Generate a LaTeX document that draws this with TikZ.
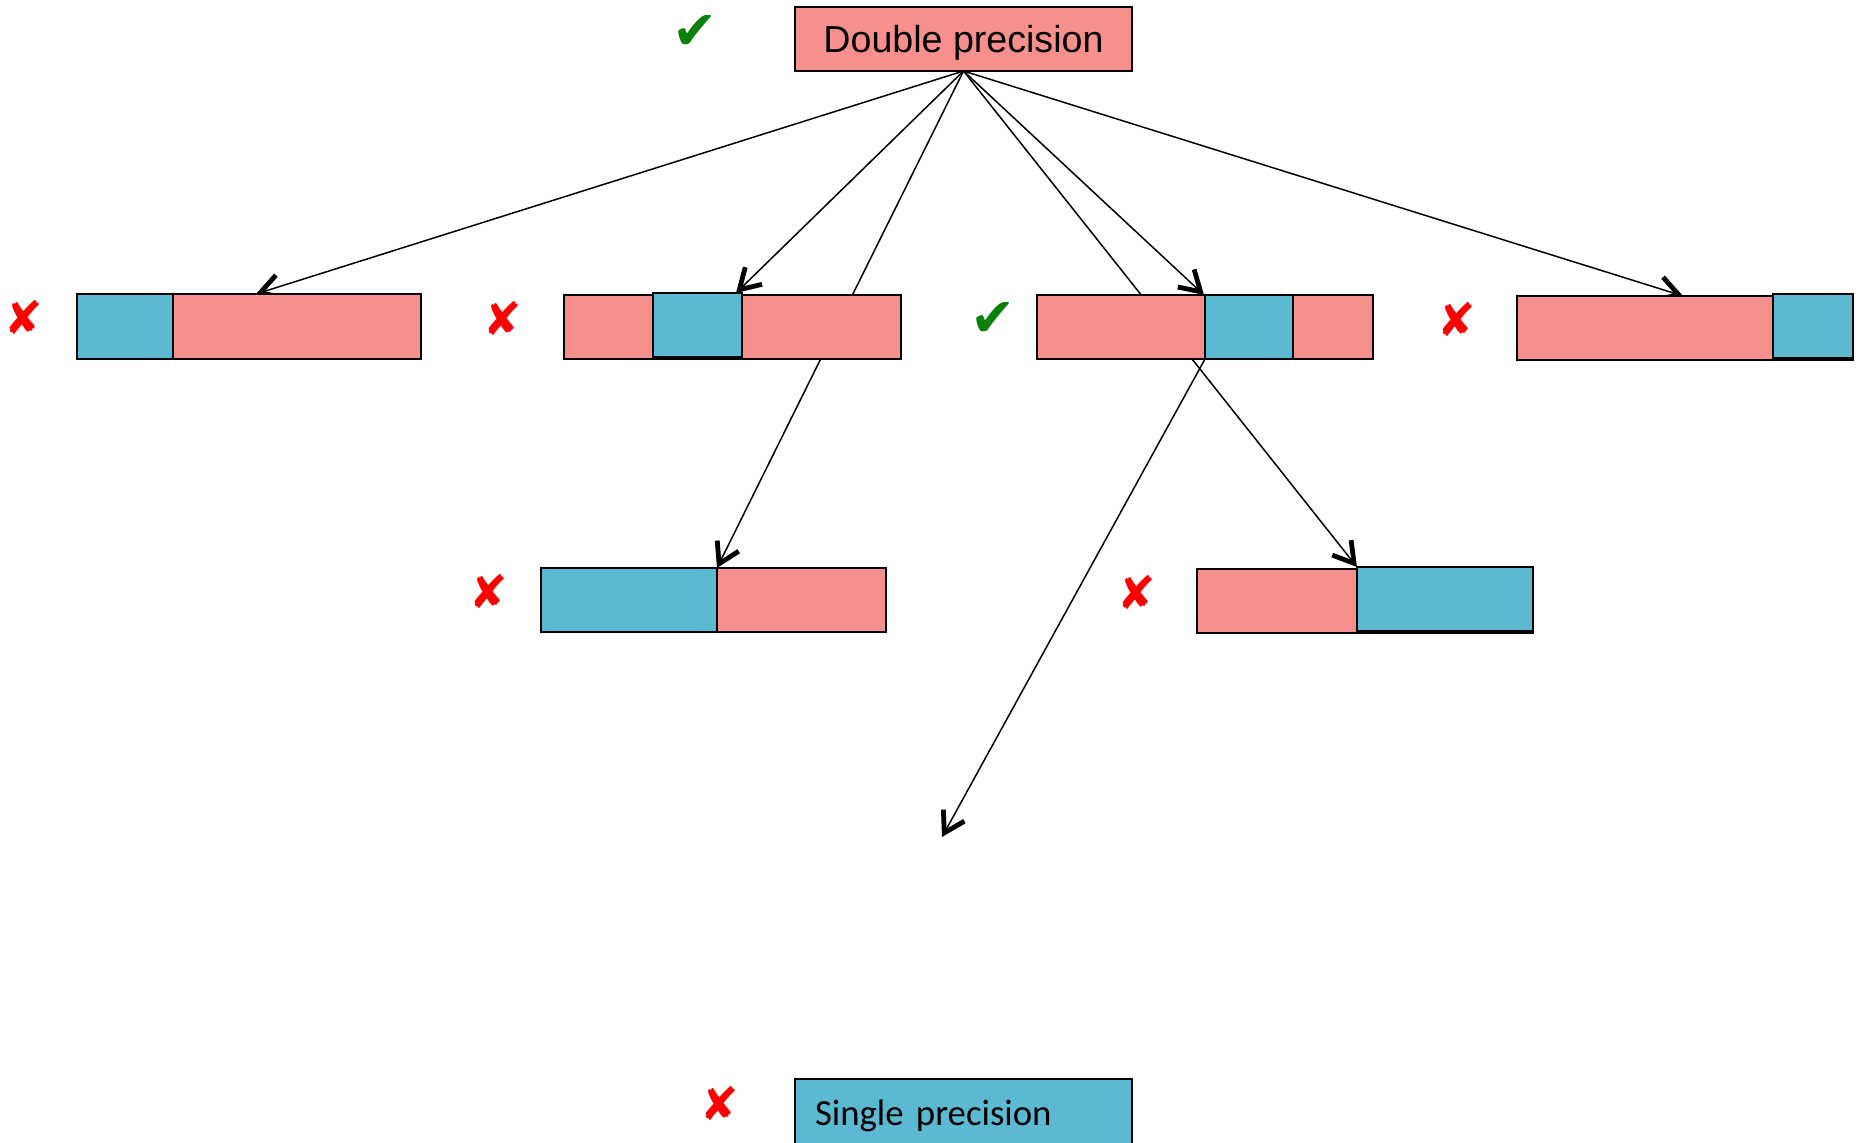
\documentclass[tikz,border=0pt]{standalone}
\usepackage{fontspec}
\setmainfont{Liberation Sans}
\newfontfamily\calib{Carlito}
\newfontfamily\symb{DejaVu Sans}
\usetikzlibrary{arrows.meta,calc}
\definecolor{dpink}{HTML}{F7908C}
\definecolor{sblue}{HTML}{5BB9D2}
\definecolor{okgreen}{HTML}{0A800A}
\definecolor{badred}{HTML}{FF0000}
\tikzset{
  seg/.style={draw=black, line width=1pt, rectangle, inner sep=0pt, outer sep=0pt, anchor=north west},
  pinkseg/.style={seg, fill=dpink},
  blueseg/.style={seg, fill=sblue},
  conn/.style={line width=0.75pt, -{Straight Barb[length=10pt,width=12pt,line width=0pt 3.2]}},
  okmark/.style={text=okgreen, font=\symb\fontsize{27}{27}\selectfont, inner sep=0pt},
  badmark/.style={text=badred, font=\symb\fontsize{23}{23}\selectfont, inner sep=0pt}
}
\begin{document}
\begin{tikzpicture}[x=0.5pt,y=-0.5pt]
\useasboundingbox (0,0) rectangle (1864,1143);

% top box
\node[pinkseg, minimum width=168.5pt, minimum height=32pt, text depth=0pt,
      font=\fontsize{18.8}{20}\selectfont] (dp) at (795,7) {Double precision};

% split-point and free end of the lower arrow
\coordinate (apex) at (dp.south);
\coordinate (loose) at (942,837);

% connectors, drawn first so that the boxes hide the lines passing behind them
\draw[conn] (apex) -- (256,294) coordinate (t1);
\draw[conn] (apex) -- (736,293) coordinate (t2);
\draw[conn] (apex) -- (717,568) coordinate (tA);
\draw[conn] (apex) -- (1357,567) coordinate (tB);
\draw[conn] (apex) -- (1204,295) coordinate (t3);
\draw[conn] (apex) -- (1683,296) coordinate (t4);

% first row
\node[pinkseg, minimum width=172pt, minimum height=32.5pt] (b1) at (77,294) {};
\node[blueseg, minimum width=48pt, minimum height=32.5pt] (b1s) at (77,294) {};

\node[pinkseg, minimum width=168.5pt, minimum height=32pt] (b2) at (564,295) {};
\node[blueseg, minimum width=44.5pt, minimum height=32pt] (b2s) at (653,293) {};

\node[pinkseg, minimum width=168pt, minimum height=32pt] (b3) at (1037,295) {};
\node[blueseg, minimum width=44pt, minimum height=32pt] (b3s) at (1205,295) {};

\node[pinkseg, minimum width=168pt, minimum height=32pt] (b4) at (1517,296) {};
\node[blueseg, minimum width=40pt, minimum height=32pt] (b4s) at (1773,294) {};

% second row
\node[pinkseg, minimum width=172.5pt, minimum height=32pt] (bA) at (541,568) {};
\node[blueseg, minimum width=88pt, minimum height=32pt] (bAs) at (541,568) {};

\node[pinkseg, minimum width=168pt, minimum height=32pt] (bB) at (1197,569) {};
\node[blueseg, minimum width=88pt, minimum height=32pt] (bBs) at (1357,567) {};

% arrow leaving the third box
\draw[conn] (b3s.south west) -- (loose);

% bottom box
\node[blueseg, minimum width=168.5pt, minimum height=37pt, text width=148.5pt,
      inner xsep=10pt, align=left, font=\calib\fontsize{18.4}{20}\selectfont] (sp) at (795,1079) {Single precision};

% marks
\node[okmark] (m0) at (695,32) {✔};
\node[badmark] (m1) at (24,318) {✘};
\node[badmark] (m2) at (503,319) {✘};
\node[okmark] (m3) at (993,319) {✔};
\node[badmark] (m4) at (1457,320) {✘};
\node[badmark] (mA) at (489,592) {✘};
\node[badmark] (mB) at (1137,593) {✘};
\node[badmark] (mS) at (720,1103) {✘};
\end{tikzpicture}
\end{document}
